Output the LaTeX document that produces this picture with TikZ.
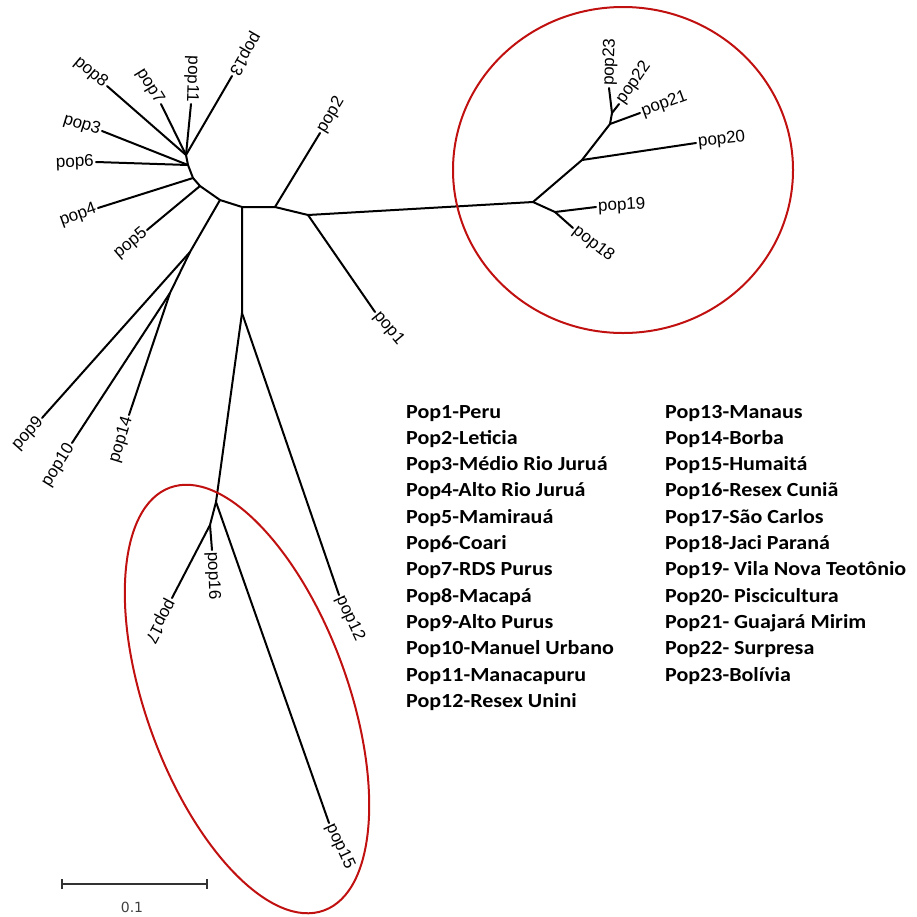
\documentclass[tikz,border=0pt]{standalone}
\usepackage{fontspec}
\setmainfont{Liberation Sans}
\newfontfamily\legendfont{Carlito}
\newfontfamily\barfont{DejaVu Sans}
\definecolor{grpred}{RGB}{192,16,16}
\begin{document}
\begin{tikzpicture}[x=1pt,y=-1pt,
  br/.style={line width=2pt, line cap=round, black},
  lab/.style={font=\fontsize{17}{17}\selectfont, inner sep=2pt},
  labe/.style={lab, anchor=east, rotate=#1},
  labw/.style={lab, anchor=west, rotate=#1},
  leg/.style={font=\legendfont\bfseries\fontsize{20}{20}\selectfont, anchor=base west, inner sep=0pt, xscale=1.1},
  grp/.style={draw=grpred, line width=2pt}]
\useasboundingbox (0,0) rectangle (917,916);
% internal nodes
\coordinate (A) at (242,207);
\coordinate (B) at (242,313);
\coordinate (C) at (216,502);
\coordinate (D) at (210,525);
\coordinate (E) at (275,207);
\coordinate (F) at (308,215);
\coordinate (G) at (533,202);
\coordinate (H) at (555,212);
\coordinate (I) at (582,160);
\coordinate (J) at (610,124);
\coordinate (K) at (612,113);
\coordinate (P1) at (220,200);
\coordinate (P2) at (200,186);
\coordinate (P3) at (193,178);
\coordinate (P4) at (188,165);
\coordinate (P5) at (186,155);
\coordinate (L) at (190,252);
\coordinate (M) at (170,293);
% tips
\coordinate (t1) at (375,312);
\coordinate (t2) at (320,133);
\coordinate (t3) at (102,131);
\coordinate (t4) at (98,208);
\coordinate (t5) at (147,230);
\coordinate (t6) at (96,162);
\coordinate (t7) at (161,104);
\coordinate (t8) at (107,86);
\coordinate (t9) at (42,418);
\coordinate (t10) at (72,443);
\coordinate (t11) at (191,104);
\coordinate (t12) at (339,595);
\coordinate (t13) at (232,76);
\coordinate (t14) at (129,415);
\coordinate (t15) at (329,823);
\coordinate (t16) at (212,550);
\coordinate (t17) at (172,598);
\coordinate (t18) at (573,228);
\coordinate (t19) at (596,207);
\coordinate (t20) at (696,143);
\coordinate (t21) at (640,113);
\coordinate (t22) at (619,104);
\coordinate (t23) at (609,88);
% branches
\draw[br] (P5) -- (P4) -- (P3) -- (P2) -- (P1) -- (A) -- (E) -- (F) -- (G);
\draw[br] (A) -- (B) -- (C) -- (D);
\draw[br] (B) -- (t12);
\draw[br] (C) -- (t15);
\draw[br] (D) -- (t16);
\draw[br] (D) -- (t17);
\draw[br] (E) -- (t2);
\draw[br] (F) -- (t1);
\draw[br] (G) -- (H) -- (t19);
\draw[br] (H) -- (t18);
\draw[br] (G) -- (I) -- (J) -- (K) -- (t23);
\draw[br] (I) -- (t20);
\draw[br] (J) -- (t21);
\draw[br] (K) -- (t22);
\draw[br] (P1) -- (L) -- (t9);
\draw[br] (L) -- (M) -- (t10);
\draw[br] (M) -- (t14);
\draw[br] (P2) -- (t5);
\draw[br] (P3) -- (t4);
\draw[br] (P4) -- (t6);
\draw[br] (P4) -- (t3);
\draw[br] (P5) -- (t8);
\draw[br] (P5) -- (t7);
\draw[br] (P5) -- (t11);
\draw[br] (P5) -- (t13);
% labels
\node[labw=-50] (n1) at (t1) {pop1};
\node[labw=59] (n2) at (t2) {pop2};
\node[labe=-17] (n3) at (t3) {pop3};
\node[labe=20] (n4) at (t4) {pop4};
\node[labe=40] (n5) at (t5) {pop5};
\node[labe=2] (n6) at (t6) {pop6};
\node[labe=-58] (n7) at (t7) {pop7};
\node[labe=-40] (n8) at (t8) {pop8};
\node[labe=48] (n9) at (t9) {pop9};
\node[labe=58] (n10) at (t10) {pop10};
\node[labe=-92] (n11) at (t11) {pop11};
\node[labw=-65] (n12) at (t12) {pop12};
\node[labe=-120] (n13) at (t13) {pop13};
\node[labe=73] (n14) at (t14) {pop14};
\node[labw=-65] (n15) at (t15) {pop15};
\node[labw=-88] (n16) at (t16) {pop16};
\node[labw=-118] (n17) at (t17) {pop17};
\node[labw=-38] (n18) at (t18) {pop18};
\node[labw=3] (n19) at (t19) {pop19};
\node[labw=6] (n20) at (t20) {pop20};
\node[labw=20] (n21) at (t21) {pop21};
\node[labw=55] (n22) at (t22) {pop22};
\node[labw=88] (n23) at (t23) {pop23};
% group outlines
\coordinate (cc) at (623,170);
\draw[grp] (cc) ellipse [x radius=170pt, y radius=163pt];
\coordinate (ec) at (247,699);
\draw[grp, rotate around={20:(ec)}] (ec) ellipse [x radius=101pt, y radius=225pt];
% scale bar
\coordinate (s1) at (62,884);
\coordinate (s2) at (207,884);
\draw[line width=1.4pt, black!80] (s1) -- (s2);
\draw[line width=1.4pt, black!80] ([yshift=-5pt]s1) -- ([yshift=5pt]s1);
\draw[line width=1.4pt, black!80] ([yshift=-5pt]s2) -- ([yshift=5pt]s2);
\node[font=\barfont\fontsize{14}{14}\selectfont, text=black!75] (sb) at (132,907) {0.1};
% legend
\foreach \t [count=\i] in {Pop1-Peru, Pop2-Leticia, Pop3-Médio Rio Juruá, Pop4-Alto Rio Juruá, Pop5-Mamirauá, Pop6-Coari, Pop7-RDS Purus, Pop8-Macapá, Pop9-Alto Purus, Pop10-Manuel Urbano, Pop11-Manacapuru, Pop12-Resex Unini}
  \node[leg] (la\i) at (406, 418+26.3*\i-26.3) {\t};
\foreach \t [count=\i] in {Pop13-Manaus, Pop14-Borba, Pop15-Humaitá, Pop16-Resex Cuniã, Pop17-São Carlos, Pop18-Jaci Paraná, Pop19- Vila Nova Teotônio, Pop20- Piscicultura, Pop21- Guajará Mirim, Pop22- Surpresa, Pop23-Bolívia}
  \node[leg] (lb\i) at (665, 418+26.3*\i-26.3) {\t};
\end{tikzpicture}
\end{document}
